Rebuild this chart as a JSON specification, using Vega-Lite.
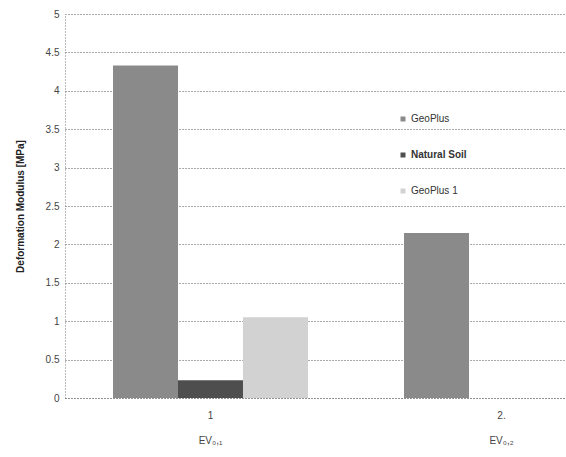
{
  "$schema": "https://vega.github.io/schema/vega-lite/v6.json",
  "width": 501,
  "height": 384,
  "autosize": {"type": "none"},
  "padding": {"left": 65, "top": 14, "right": 0, "bottom": 59},
  "background": "white",
  "config": {
    "view": {"stroke": null},
    "font": "Liberation Sans",
    "axis": {"labelFont": "Liberation Sans", "titleFont": "Liberation Sans"}
  },
  "data": {
    "values": [
      {"test": "1", "series": "GeoPlus", "value": 4.33},
      {"test": "1", "series": "Natural Soil", "value": 0.23},
      {"test": "1", "series": "GeoPlus 1", "value": 1.05},
      {"test": "2.", "series": "GeoPlus", "value": 2.15}
    ]
  },
  "mark": {"type": "bar"},
  "encoding": {
    "x": {
      "field": "test",
      "type": "nominal",
      "sort": ["1", "2."],
      "scale": {"range": [0, 582], "paddingInner": 0.33, "paddingOuter": 0.165},
      "axis": {
        "title": null,
        "domain": true,
        "domainColor": "#777",
        "domainDash": [1, 2],
        "ticks": false,
        "labelAngle": 0,
        "labelFontSize": 10,
        "labelColor": "#444",
        "labelPadding": 12,
        "labelLineHeight": 25,
        "labelBaseline": "top",
        "labelExpr": "datum.value == '1' ? ['1', 'EV₀,₁'] : ['2.', 'EV₀,₂']"
      }
    },
    "xOffset": {
      "field": "series",
      "type": "nominal",
      "sort": ["GeoPlus", "Natural Soil", "GeoPlus 1"]
    },
    "y": {
      "field": "value",
      "type": "quantitative",
      "scale": {"domain": [0, 5], "nice": false},
      "axis": {
        "title": "Deformation Modulus [MPa]",
        "titleFontSize": 10,
        "titleFontWeight": "bold",
        "titleColor": "#222",
        "titlePadding": 20,
        "values": [0, 0.5, 1, 1.5, 2, 2.5, 3, 3.5, 4, 4.5, 5],
        "labelExpr": "datum.value",
        "labelFontSize": 10,
        "labelColor": "#444",
        "labelPadding": 6,
        "domainColor": "#777",
        "domainDash": [1, 2],
        "ticks": false,
        "grid": true,
        "gridColor": "#555",
        "gridDash": [1, 2],
        "gridWidth": 1
      }
    },
    "color": {
      "field": "series",
      "type": "nominal",
      "sort": ["GeoPlus", "Natural Soil", "GeoPlus 1"],
      "scale": {
        "domain": ["GeoPlus", "Natural Soil", "GeoPlus 1"],
        "range": ["#8a8a8a", "#4e4e4e", "#d2d2d2"]
      },
      "legend": {
        "title": null,
        "orient": "none",
        "legendX": 333,
        "legendY": 100,
        "symbolType": "square",
        "symbolSize": 25,
        "symbolStrokeWidth": 0,
        "labelFontSize": 10,
        "labelColor": "#333",
        "labelOffset": 3,
        "rowPadding": 26,
        "encode": {
          "labels": {
            "update": {
              "fontWeight": {"signal": "datum.label === 'Natural Soil' ? 'bold' : 'normal'"}
            }
          }
        }
      }
    }
  }
}
